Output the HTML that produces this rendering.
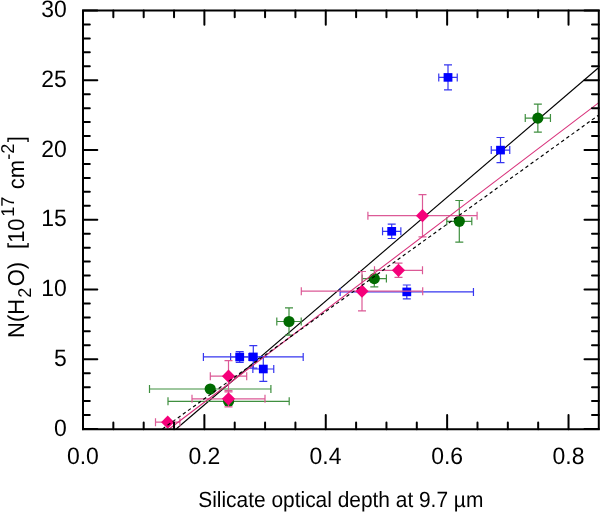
<!DOCTYPE html>
<html><head><meta charset="utf-8"><style>
html,body{margin:0;padding:0;background:#fff;}
svg{display:block;will-change:transform;}
text{font-family:"Liberation Sans",sans-serif;fill:#000;text-rendering:geometricPrecision;}
</style></head><body>
<svg width="600" height="512" viewBox="0 0 600 512">
<rect width="600" height="512" fill="#fff"/>
<line x1="176.14" y1="429" x2="598.5" y2="67.73" stroke="#000" stroke-width="1.15"/>
<path d="M525.25,118.10H550.45M525.25,114.10V122.10M550.45,114.10V122.10M537.85,104.10V132.10M533.85,104.10H541.85M533.85,132.10H541.85" stroke="#3f8f3f" stroke-width="1.2" fill="none"/>
<path d="M446.80,221.30H471.80M446.80,217.30V225.30M471.80,217.30V225.30M459.30,200.50V242.10M455.30,200.50H463.30M455.30,242.10H463.30" stroke="#3f8f3f" stroke-width="1.2" fill="none"/>
<path d="M362.20,278.60H386.40M362.20,274.60V282.60M386.40,274.60V282.60M374.30,270.30V286.90M370.30,270.30H378.30M370.30,286.90H378.30" stroke="#3f8f3f" stroke-width="1.2" fill="none"/>
<path d="M276.80,321.50H301.20M276.80,317.50V325.50M301.20,317.50V325.50M289.00,307.80V335.20M285.00,307.80H293.00M285.00,335.20H293.00" stroke="#3f8f3f" stroke-width="1.2" fill="none"/>
<path d="M149.50,389.00H270.90M149.50,385.00V393.00M270.90,385.00V393.00" stroke="#3f8f3f" stroke-width="1.2" fill="none"/>
<path d="M168.00,401.30H289.20M168.00,397.30V405.30M289.20,397.30V405.30" stroke="#3f8f3f" stroke-width="1.2" fill="none"/>
<circle cx="537.85" cy="118.1" r="5.6" fill="#006b00"/>
<circle cx="459.3" cy="221.3" r="5.6" fill="#006b00"/>
<circle cx="374.3" cy="278.6" r="5.6" fill="#006b00"/>
<circle cx="289" cy="321.5" r="5.6" fill="#006b00"/>
<circle cx="210.2" cy="389" r="5.6" fill="#006b00"/>
<circle cx="228.6" cy="401.3" r="5.6" fill="#006b00"/>
<path d="M438.75,77.40H457.25M438.75,73.40V81.40M457.25,73.40V81.40M448.00,64.85V89.95M444.00,64.85H452.00M444.00,89.95H452.00" stroke="#3636f0" stroke-width="1.2" fill="none"/>
<path d="M491.25,150.10H509.75M491.25,146.10V154.10M509.75,146.10V154.10M500.50,137.50V162.70M496.50,137.50H504.50M496.50,162.70H504.50" stroke="#3636f0" stroke-width="1.2" fill="none"/>
<path d="M382.55,231.30H400.85M382.55,227.30V235.30M400.85,227.30V235.30M391.70,224.10V238.50M387.70,224.10H395.70M387.70,238.50H395.70" stroke="#3636f0" stroke-width="1.2" fill="none"/>
<path d="M340.15,291.90H473.45M340.15,287.90V295.90M473.45,287.90V295.90M406.80,285.00V298.80M402.80,285.00H410.80M402.80,298.80H410.80" stroke="#3636f0" stroke-width="1.2" fill="none"/>
<path d="M230.60,357.00H248.80M230.60,353.00V361.00M248.80,353.00V361.00M239.70,351.70V362.30M235.70,351.70H243.70M235.70,362.30H243.70" stroke="#3636f0" stroke-width="1.2" fill="none"/>
<path d="M203.40,356.90H303.20M203.40,352.90V360.90M303.20,352.90V360.90M253.30,345.70V368.10M249.30,345.70H257.30M249.30,368.10H257.30" stroke="#3636f0" stroke-width="1.2" fill="none"/>
<path d="M252.85,369.00H273.75M252.85,365.00V373.00M273.75,365.00V373.00M263.30,356.60V381.40M259.30,356.60H267.30M259.30,381.40H267.30" stroke="#3636f0" stroke-width="1.2" fill="none"/>
<rect x="443.60" y="73.10" width="8.8" height="8.6" fill="#0000ff"/>
<rect x="496.10" y="145.80" width="8.8" height="8.6" fill="#0000ff"/>
<rect x="387.30" y="227.00" width="8.8" height="8.6" fill="#0000ff"/>
<rect x="402.40" y="287.60" width="8.8" height="8.6" fill="#0000ff"/>
<rect x="235.30" y="352.70" width="8.8" height="8.6" fill="#0000ff"/>
<rect x="248.90" y="352.60" width="8.8" height="8.6" fill="#0000ff"/>
<rect x="258.90" y="364.70" width="8.8" height="8.6" fill="#0000ff"/>
<path d="M367.90,215.70H477.10M367.90,211.70V219.70M477.10,211.70V219.70M422.50,194.60V236.80M418.50,194.60H426.50M418.50,236.80H426.50" stroke="#dc5a96" stroke-width="1.2" fill="none"/>
<path d="M374.50,270.30H422.50M374.50,266.30V274.30M422.50,266.30V274.30M398.50,263.20V277.40M394.50,263.20H402.50M394.50,277.40H402.50" stroke="#dc5a96" stroke-width="1.2" fill="none"/>
<path d="M301.30,291.20H422.70M301.30,287.20V295.20M422.70,287.20V295.20M362.00,271.50V310.90M358.00,271.50H366.00M358.00,310.90H366.00" stroke="#dc5a96" stroke-width="1.2" fill="none"/>
<path d="M210.30,376.20H246.70M210.30,372.20V380.20M246.70,372.20V380.20M228.50,360.60V391.80M224.50,360.60H232.50M224.50,391.80H232.50" stroke="#dc5a96" stroke-width="1.2" fill="none"/>
<path d="M192.00,398.80H265.00M192.00,394.80V402.80M265.00,394.80V402.80M228.50,390.70V406.90M224.50,390.70H232.50M224.50,406.90H232.50" stroke="#dc5a96" stroke-width="1.2" fill="none"/>
<path d="M155.50,422.20H179.90M155.50,418.20V426.20M179.90,418.20V426.20" stroke="#dc5a96" stroke-width="1.2" fill="none"/>
<path d="M415.90,215.70L422.50,209.10L429.10,215.70L422.50,222.30Z" fill="#f5007a"/>
<path d="M391.90,270.30L398.50,263.70L405.10,270.30L398.50,276.90Z" fill="#f5007a"/>
<path d="M355.40,291.20L362.00,284.60L368.60,291.20L362.00,297.80Z" fill="#f5007a"/>
<path d="M221.90,376.20L228.50,369.60L235.10,376.20L228.50,382.80Z" fill="#f5007a"/>
<path d="M221.90,398.80L228.50,392.20L235.10,398.80L228.50,405.40Z" fill="#f5007a"/>
<path d="M161.10,422.20L167.70,415.60L174.30,422.20L167.70,428.80Z" fill="#f5007a"/>
<line x1="169.12" y1="429" x2="598.5" y2="102.85" stroke="#d8307a" stroke-width="1.05"/>
<line x1="162.42" y1="429" x2="598.5" y2="115.19" stroke="#000" stroke-width="1.15" stroke-dasharray="3.4 2.9"/>
<rect x="0" y="430.3" width="600" height="82" fill="#fff"/>
<path d="M83,10.5H598.8V429.3H83Z" fill="none" stroke="#000" stroke-width="2"/>
<path d="M83.00,429.3V415.0M83.00,10.5V24.8M113.34,429.3V422.5M113.34,10.5V17.3M143.69,429.3V422.5M143.69,10.5V17.3M174.04,429.3V422.5M174.04,10.5V17.3M204.38,429.3V415.0M204.38,10.5V24.8M234.72,429.3V422.5M234.72,10.5V17.3M265.07,429.3V422.5M265.07,10.5V17.3M295.42,429.3V422.5M295.42,10.5V17.3M325.76,429.3V415.0M325.76,10.5V24.8M356.11,429.3V422.5M356.11,10.5V17.3M386.45,429.3V422.5M386.45,10.5V17.3M416.80,429.3V422.5M416.80,10.5V17.3M447.14,429.3V415.0M447.14,10.5V24.8M477.49,429.3V422.5M477.49,10.5V17.3M507.83,429.3V422.5M507.83,10.5V17.3M538.17,429.3V422.5M538.17,10.5V17.3M568.52,429.3V415.0M568.52,10.5V24.8M83,429.00H97.3M598.8,429.00H584.5M83,415.05H89.8M598.8,415.05H592.0M83,401.10H89.8M598.8,401.10H592.0M83,387.15H89.8M598.8,387.15H592.0M83,373.20H89.8M598.8,373.20H592.0M83,359.25H97.3M598.8,359.25H584.5M83,345.30H89.8M598.8,345.30H592.0M83,331.35H89.8M598.8,331.35H592.0M83,317.40H89.8M598.8,317.40H592.0M83,303.45H89.8M598.8,303.45H592.0M83,289.50H97.3M598.8,289.50H584.5M83,275.55H89.8M598.8,275.55H592.0M83,261.60H89.8M598.8,261.60H592.0M83,247.65H89.8M598.8,247.65H592.0M83,233.70H89.8M598.8,233.70H592.0M83,219.75H97.3M598.8,219.75H584.5M83,205.80H89.8M598.8,205.80H592.0M83,191.85H89.8M598.8,191.85H592.0M83,177.90H89.8M598.8,177.90H592.0M83,163.95H89.8M598.8,163.95H592.0M83,150.00H97.3M598.8,150.00H584.5M83,136.05H89.8M598.8,136.05H592.0M83,122.10H89.8M598.8,122.10H592.0M83,108.15H89.8M598.8,108.15H592.0M83,94.20H89.8M598.8,94.20H592.0M83,80.25H97.3M598.8,80.25H584.5M83,66.30H89.8M598.8,66.30H592.0M83,52.35H89.8M598.8,52.35H592.0M83,38.40H89.8M598.8,38.40H592.0M83,24.45H89.8M598.8,24.45H592.0M83,10.50H97.3M598.8,10.50H584.5" stroke="#000" stroke-width="2" stroke-linecap="round" fill="none"/>
<text transform="translate(54.08,435.52) scale(0.965,1)" font-size="23.8">0</text>
<text transform="translate(54.08,365.65) scale(0.965,1)" font-size="23.8">5</text>
<text transform="translate(41.29,296.02) scale(0.965,1)" font-size="23.8">10</text>
<text transform="translate(41.29,226.15) scale(0.965,1)" font-size="23.8">15</text>
<text transform="translate(41.29,156.53) scale(0.965,1)" font-size="23.8">20</text>
<text transform="translate(41.29,86.78) scale(0.965,1)" font-size="23.8">25</text>
<text transform="translate(41.29,17.02) scale(0.965,1)" font-size="23.8">30</text>
<text transform="translate(66.96,463.73) scale(0.965,1)" font-size="23.8">0.0</text>
<text transform="translate(188.46,463.73) scale(0.965,1)" font-size="23.8">0.2</text>
<text transform="translate(309.60,463.73) scale(0.965,1)" font-size="23.8">0.4</text>
<text transform="translate(431.22,463.73) scale(0.965,1)" font-size="23.8">0.6</text>
<text transform="translate(552.60,463.73) scale(0.965,1)" font-size="23.8">0.8</text>
<text transform="translate(23.50,337.91) rotate(-90) scale(0.956,1)" font-size="23.0">N(H</text>
<text transform="translate(31.00,297.68) rotate(-90) scale(0.976,1)" font-size="18.5">2</text>
<text transform="translate(23.50,286.36) rotate(-90) scale(0.956,1)" font-size="23.0">O)</text>
<text transform="translate(23.50,248.97) rotate(-90) scale(0.956,1)" font-size="23.0">[10</text>
<text transform="translate(13.80,216.76) rotate(-90) scale(0.976,1)" font-size="18.5">17</text>
<text transform="translate(23.50,189.36) rotate(-90) scale(0.956,1)" font-size="23.0">cm</text>
<text transform="translate(13.80,159.83) rotate(-90) scale(0.976,1)" font-size="18.5">-2</text>
<text transform="translate(23.50,142.34) rotate(-90) scale(0.956,1)" font-size="23.0">]</text>
<text transform="translate(198.25,506.80) scale(0.95,1)" font-size="22.0">Silicate optical depth at 9.7 µm</text>
</svg>
</body></html>
